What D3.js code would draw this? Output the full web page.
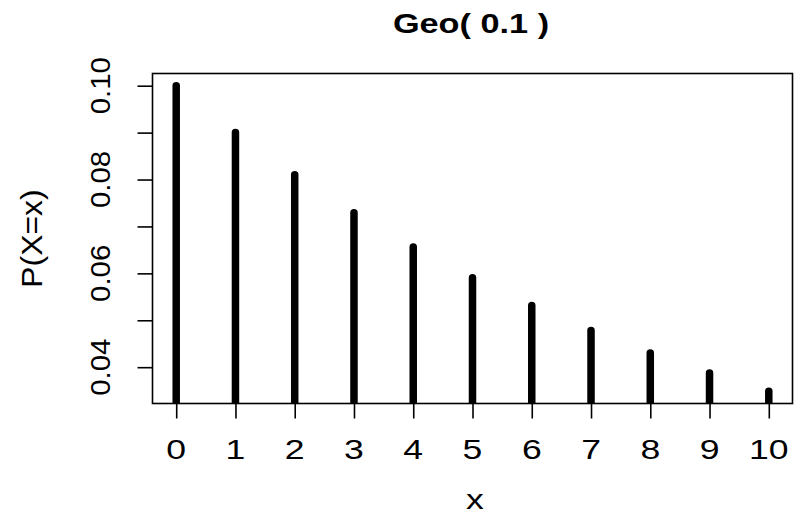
<!DOCTYPE html>
<html><head><meta charset="utf-8">
<script src="https://cdn.jsdelivr.net/npm/d3@7"></script>
<style>body{margin:0;background:#fff}svg{display:block}text{font-family:"Liberation Sans",Arial,sans-serif;fill:#000}</style>
</head><body>
<svg id="c" width="794" height="516"></svg>
<script>
const xs = [0,1,2,3,4,5,6,7,8,9,10];
const probs = [0.1, 0.09, 0.081, 0.0729, 0.06561, 0.059049, 0.0531441, 0.04782969, 0.04304672, 0.03874205, 0.03486784];
const xTicks = [0,1,2,3,4,5,6,7,8,9,10];
const yTicks = [0.04,0.05,0.06,0.07,0.08,0.09,0.10];
const yTickLabels = ["0.04","","0.06","","0.08","","0.10"];
const title = "Geo( 0.1 )";
const xLabel = "x";
const yLabel = "P(X=x)";

const svg = d3.select("#c");
const L=152.5, R=792.5, T=73.5, B=403.5;
const x = d3.scaleLinear().domain([-0.4,10.4]).range([L,R]);
const y = d3.scaleLinear().domain([0.03226,0.1026]).range([B,T]);
const HS = 1.27;

svg.append("clipPath").attr("id","clip").append("rect").attr("x",L).attr("y",T).attr("width",R-L).attr("height",B-T);

svg.append("g").attr("clip-path","url(#clip)").selectAll("line").data(xs).join("line")
  .attr("x1",(d)=>x(d)).attr("x2",(d)=>x(d))
  .attr("y1",B+10).attr("y2",(d,i)=>y(probs[i]))
  .attr("stroke","#000").attr("stroke-width",7.5).attr("stroke-linecap","round");

svg.append("rect").attr("x",L).attr("y",T).attr("width",R-L).attr("height",B-T)
  .attr("fill","none").attr("stroke","#000").attr("stroke-width",1.6);

// x axis
const xa = svg.append("g").attr("transform",`translate(0,${B})`)
  .call(d3.axisBottom(x).tickValues(xTicks).tickSize(15).tickFormat(""));
xa.select(".domain").remove();
xa.selectAll("line").attr("stroke-width",1.6);
svg.selectAll(".xl").data(xTicks).join("text").attr("class","xl")
  .attr("transform",d=>`translate(${x(d)},459) scale(${HS},1)`)
  .attr("text-anchor","middle").attr("font-size",28).text(d=>d);

// y axis
const ya = svg.append("g").attr("transform",`translate(${L},0)`)
  .call(d3.axisLeft(y).tickValues(yTicks).tickSize(15).tickFormat(""));
ya.select(".domain").remove();
ya.selectAll("line").attr("stroke-width",1.6);
svg.selectAll(".yl").data(yTicks).join("text").attr("class","yl")
  .attr("transform",d=>`translate(110,${y(d)}) rotate(-90) scale(1.05,1)`)
  .attr("text-anchor","middle").attr("font-size",28).text((d,i)=>yTickLabels[i]);

svg.append("text").attr("transform",`translate(471,33) scale(${HS},1)`).attr("text-anchor","middle")
  .attr("font-size",27).attr("font-weight","bold").text(title);
svg.append("text").attr("transform",`translate(475,509) scale(${HS},1)`).attr("text-anchor","middle")
  .attr("font-size",28).text(xLabel);
svg.append("text").attr("transform",`translate(42,${(T+B)/2}) rotate(-90) scale(1.1,1)`).attr("text-anchor","middle")
  .attr("font-size",29).text(yLabel);
</script>
</body></html>
